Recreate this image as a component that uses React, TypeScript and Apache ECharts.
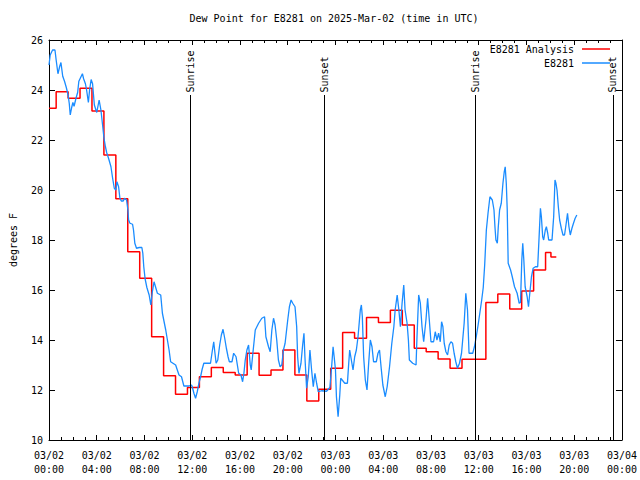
import React, { useEffect, useRef } from "react";
import * as echarts from "echarts";

const titleText = "Dew Point for E8281 on 2025-Mar-02 (time in UTC)";
const yAxisName = "degrees F";
const analysisName = "E8281 Analysis";
const obsName = "E8281";

// x axis: hours since 03/02 00:00 UTC
const xTickLabels = [
  "03/02\n00:00", "03/02\n04:00", "03/02\n08:00", "03/02\n12:00", "03/02\n16:00", "03/02\n20:00",
  "03/03\n00:00", "03/03\n04:00", "03/03\n08:00", "03/03\n12:00", "03/03\n16:00", "03/03\n20:00",
  "03/04\n00:00",
];

// sunrise / sunset markers (hours)
const eventHours = [11.83, 23.08, 35.75, 47.25];
const eventNames = ["Sunrise", "Sunset", "Sunrise", "Sunset"];

// analysis (stepped): start hour of each value
const analysisHours = [
  0, 0.6, 1.6, 2.6, 3.6, 4.6, 5.6, 6.6, 7.6, 8.6, 9.6, 10.6, 11.6, 12.6, 13.6, 14.6, 15.6,
  16.6, 17.6, 18.6, 19.6, 20.6, 21.6, 22.6, 23.6, 24.6, 25.6, 26.6, 27.6, 28.6, 29.6, 30.6,
  31.6, 32.6, 33.6, 34.6, 35.6, 36.6, 37.6, 38.6, 39.6, 40.6, 41.6, 42.05, 42.5,
];
const analysisValues = [
  23.27, 23.93, 23.67, 24.07, 23.16, 21.4, 19.65, 17.53, 16.47, 14.13, 12.57, 11.83, 12.1,
  12.53, 12.9, 12.7, 12.6, 13.47, 12.59, 12.8, 13.6, 12.6, 11.56, 12.03, 12.87, 14.3, 14.07,
  14.9, 14.7, 15.19, 14.6, 13.67, 13.53, 13.24, 12.87, 13.23, 13.23, 15.5, 15.84, 15.24,
  15.96, 16.8, 17.5, 17.32, 17.32,
];

// observations: [hour, dew point F]
const obsData: [number, number][] = [
  [0.0, 25.0], [0.1, 25.4], [0.3, 25.6], [0.5, 25.6], [0.6, 25.2], [0.75, 24.65], [0.9, 24.95], [1.0, 25.1],
  [1.15, 24.55], [1.3, 24.35], [1.45, 24.1], [1.6, 23.8], [1.7, 23.45], [1.78, 23.0], [1.9, 23.3], [2.0, 23.5],
  [2.1, 23.35], [2.25, 23.65], [2.4, 23.9], [2.5, 24.35], [2.7, 24.55], [2.8, 24.65], [2.9, 24.45], [3.05, 24.25],
  [3.15, 24.0], [3.3, 23.5], [3.4, 24.0], [3.53, 24.42], [3.65, 24.25], [3.8, 23.4], [4.0, 23.1], [4.2, 23.6],
  [4.35, 23.2], [4.5, 22.55], [4.6, 22.1], [4.72, 21.75], [4.83, 21.5], [5.0, 21.25], [5.19, 20.93], [5.33, 20.47],
  [5.47, 20.07], [5.6, 20.0], [5.69, 20.33], [5.83, 20.13], [5.94, 19.67], [6.06, 19.56], [6.22, 19.56], [6.33, 19.67],
  [6.5, 19.6], [6.61, 19.2], [6.67, 18.8], [6.78, 18.67], [7.0, 18.63], [7.08, 18.4], [7.19, 17.87], [7.33, 17.67],
  [7.56, 17.7], [7.78, 17.7], [7.86, 17.47], [7.94, 16.93], [8.05, 16.45], [8.2, 16.1], [8.39, 15.8], [8.53, 15.4],
  [8.65, 15.9], [8.8, 16.33], [9.08, 15.87], [9.36, 15.8], [9.5, 15.07], [9.78, 14.4], [10.06, 13.6], [10.19, 13.13],
  [10.61, 13.0], [10.89, 12.6], [11.1, 12.53], [11.3, 12.16], [11.72, 12.16], [11.94, 12.2], [12.0, 12.13], [12.14, 11.87],
  [12.28, 11.67], [12.42, 11.93], [12.56, 12.27], [12.7, 12.53], [12.83, 12.83], [12.97, 13.07], [13.53, 13.07], [13.67, 13.53],
  [13.8, 13.93], [13.89, 13.53], [14.0, 13.07], [14.14, 13.2], [14.3, 13.8], [14.44, 14.2], [14.58, 14.43], [14.72, 14.07],
  [14.86, 13.67], [15.0, 13.33], [15.11, 13.13], [15.33, 13.13], [15.47, 13.47], [15.67, 13.33], [15.89, 12.67], [16.08, 12.6],
  [16.22, 12.33], [16.33, 12.67], [16.44, 13.2], [16.58, 13.6], [16.72, 13.8], [16.86, 13.0], [16.94, 12.8], [17.08, 13.47],
  [17.28, 14.4], [17.56, 14.67], [17.83, 14.87], [18.06, 14.93], [18.17, 14.13], [18.39, 13.73], [18.53, 13.53], [18.67, 14.4],
  [18.81, 14.87], [18.94, 14.6], [19.08, 14.0], [19.22, 13.2], [19.36, 12.93], [19.5, 13.0], [19.64, 13.6], [19.78, 13.87],
  [20.0, 14.8], [20.14, 15.33], [20.28, 15.6], [20.42, 15.47], [20.61, 15.33], [20.75, 14.53], [20.83, 13.33], [20.94, 12.67],
  [21.11, 13.07], [21.25, 13.8], [21.36, 14.27], [21.44, 13.33], [21.58, 12.07], [21.72, 12.53], [21.86, 13.6], [22.0, 12.8],
  [22.14, 12.13], [22.28, 12.67], [22.42, 12.27], [22.56, 11.93], [22.83, 11.97], [23.25, 11.95], [23.53, 12.1], [23.67, 12.87],
  [23.8, 13.73], [23.89, 13.33], [24.0, 12.8], [24.08, 11.73], [24.22, 10.93], [24.36, 11.8], [24.44, 12.47], [24.56, 12.4],
  [24.78, 12.27], [25.0, 12.27], [25.11, 13.07], [25.19, 13.6], [25.33, 13.2], [25.47, 12.8], [25.61, 13.33], [25.75, 13.6],
  [25.89, 14.13], [26.08, 15.2], [26.17, 15.4], [26.25, 14.93], [26.36, 13.33], [26.5, 12.4], [26.64, 12.0], [26.78, 13.07],
  [26.92, 14.0], [27.06, 13.73], [27.19, 13.13], [27.42, 13.13], [27.56, 13.47], [27.69, 13.6], [27.83, 12.87], [27.97, 12.2],
  [28.17, 11.73], [28.33, 12.13], [28.53, 12.93], [28.72, 13.87], [28.89, 14.53], [29.0, 15.2], [29.17, 15.8], [29.31, 15.2],
  [29.44, 14.53], [29.58, 15.47], [29.72, 16.2], [29.83, 15.2], [30.0, 14.67], [30.11, 14.0], [30.19, 13.2], [30.47, 13.07],
  [30.75, 13.0], [30.83, 14.13], [30.97, 15.8], [31.11, 15.47], [31.25, 14.53], [31.39, 13.93], [31.58, 14.8], [31.72, 15.67],
  [31.86, 14.8], [32.0, 13.93], [32.22, 13.93], [32.36, 14.33], [32.5, 14.0], [32.64, 14.27], [32.78, 13.93], [32.89, 14.73],
  [33.0, 14.53], [33.11, 13.87], [33.25, 13.53], [33.39, 13.4], [33.53, 13.8], [33.67, 13.93], [33.81, 13.87], [33.94, 13.47],
  [34.08, 13.13], [34.22, 12.87], [34.39, 13.07], [34.56, 13.47], [34.78, 14.67], [34.92, 15.87], [35.06, 15.2], [35.19, 13.47],
  [35.5, 13.47], [35.65, 13.75], [35.8, 14.15], [35.95, 14.6], [36.1, 15.1], [36.25, 15.6], [36.38, 16.1], [36.5, 17.0],
  [36.64, 18.4], [36.78, 19.07], [36.94, 19.73], [37.14, 19.6], [37.28, 19.2], [37.36, 18.53], [37.44, 18.0], [37.56, 17.87],
  [37.64, 18.53], [37.75, 19.2], [37.89, 19.47], [38.03, 20.27], [38.14, 20.73], [38.22, 20.93], [38.31, 20.27], [38.39, 19.2],
  [38.47, 17.07], [38.67, 16.8], [38.81, 16.53], [39.0, 16.13], [39.22, 15.87], [39.39, 15.47], [39.5, 15.5], [39.61, 17.2],
  [39.69, 17.87], [39.78, 17.2], [39.89, 16.13], [40.06, 15.73], [40.17, 15.33], [40.28, 15.87], [40.42, 16.53], [40.56, 16.87],
  [40.75, 16.93], [40.94, 16.93], [41.06, 18.13], [41.17, 19.27], [41.25, 18.93], [41.36, 18.13], [41.44, 18.0], [41.58, 18.4],
  [41.67, 18.53], [41.78, 18.27], [41.86, 18.0], [42.14, 18.0], [42.28, 18.93], [42.39, 20.4], [42.47, 20.27], [42.56, 20.0],
  [42.67, 19.33], [42.78, 18.8], [42.92, 18.47], [43.06, 18.2], [43.19, 18.2], [43.33, 18.67], [43.44, 19.07], [43.56, 18.53],
  [43.67, 18.2], [43.81, 18.47], [43.94, 18.67], [44.08, 18.87], [44.22, 19.0],
];

const FONT = "DejaVu Sans Mono";
const RED = "#ff0000";
const BLUE = "#1a8cff";

export default function App() {
  const ref = useRef<HTMLDivElement>(null);
  useEffect(() => {
    if (!ref.current) return;
    const chart = echarts.init(ref.current, undefined, { renderer: "svg" });
    const textBase = { fontFamily: FONT, fontSize: 10, color: "#000" };
    const xBase = {
      type: "value" as const,
      min: 0,
      max: 48,
      interval: 4,
      axisLine: { show: true, onZero: false, lineStyle: { color: "#000", width: 1 } },
      axisTick: { show: true, inside: true, length: 5, lineStyle: { color: "#000" } },
      minorTick: { show: true, splitNumber: 4, length: 3, lineStyle: { color: "#000" } },
      splitLine: { show: false },
    };
    const yBase = {
      type: "value" as const,
      min: 10,
      max: 26,
      interval: 2,
      axisLine: { show: true, onZero: false, lineStyle: { color: "#000", width: 1 } },
      axisTick: { show: true, inside: true, length: 6, lineStyle: { color: "#000" } },
      splitLine: { show: false },
    };
    const legendBase = {
      orient: "vertical" as const,
      align: "right" as const,
      right: 30,
      padding: 0,
      itemWidth: 28,
      itemHeight: 1.5,
      icon: "rect",
      textStyle: { ...textBase, padding: [0, 3, 0, 0] },
    };
    chart.setOption({
      animation: false,
      backgroundColor: "#fff",
      title: {
        text: titleText,
        left: 334,
        textAlign: "center",
        top: 13,
        padding: 0,
        textStyle: { ...textBase, fontWeight: "normal" },
      },
      legend: [
        { ...legendBase, top: 44, data: [analysisName] },
        { ...legendBase, top: 58, data: [obsName] },
      ],
      grid: { left: 46, right: 18, top: 40, bottom: 40, containLabel: false },
      xAxis: [
        {
          ...xBase,
          position: "bottom",
          axisLabel: {
            ...textBase,
            margin: 8,
            lineHeight: 14,
            formatter: (v: number) => xTickLabels[Math.round(v / 4)] ?? "",
          },
        },
        { ...xBase, position: "top", axisLabel: { show: false } },
      ],
      yAxis: [
        {
          ...yBase,
          position: "left",
          name: yAxisName,
          nameLocation: "middle",
          nameRotate: 90,
          nameGap: 31,
          nameTextStyle: textBase,
          axisLabel: { ...textBase, margin: 6 },
        },
        { ...yBase, position: "right", axisLabel: { show: false } },
      ],
      series: [
        {
          name: analysisName,
          type: "line",
          step: "end",
          showSymbol: false,
          symbol: "none",
          xAxisIndex: 0,
          yAxisIndex: 0,
          lineStyle: { color: RED, width: 1.5 },
          itemStyle: { color: RED },
          data: analysisHours.map((h, i) => [h, analysisValues[i]]),
          markLine: {
            silent: true,
            symbol: ["none", "none"],
            label: { show: false },
            lineStyle: { color: "#000", width: 1, type: "solid" },
            data: eventHours.map((h) => [{ coord: [h, 10] }, { coord: [h, 23.8] }]),
          },
          markPoint: {
            silent: true,
            symbol: "rect",
            symbolSize: 0,
            label: {
              show: true,
              position: "inside",
              rotate: 90,
              align: "left",
              verticalAlign: "middle",
              ...textBase,
              formatter: (p: any) => p.name,
            },
            data: eventHours.map((h, i) => ({ name: eventNames[i], coord: [h, 23.9] })),
          },
        },
        {
          name: obsName,
          type: "line",
          showSymbol: false,
          symbol: "none",
          xAxisIndex: 0,
          yAxisIndex: 0,
          lineStyle: { color: BLUE, width: 1.3 },
          itemStyle: { color: BLUE },
          data: obsData,
        },
      ],
    });
    return () => chart.dispose();
  }, []);
  return (
    <div
      ref={ref}
      style={{ position: "absolute", left: 0, top: 0, width: 640, height: 480 }}
    />
  );
}
